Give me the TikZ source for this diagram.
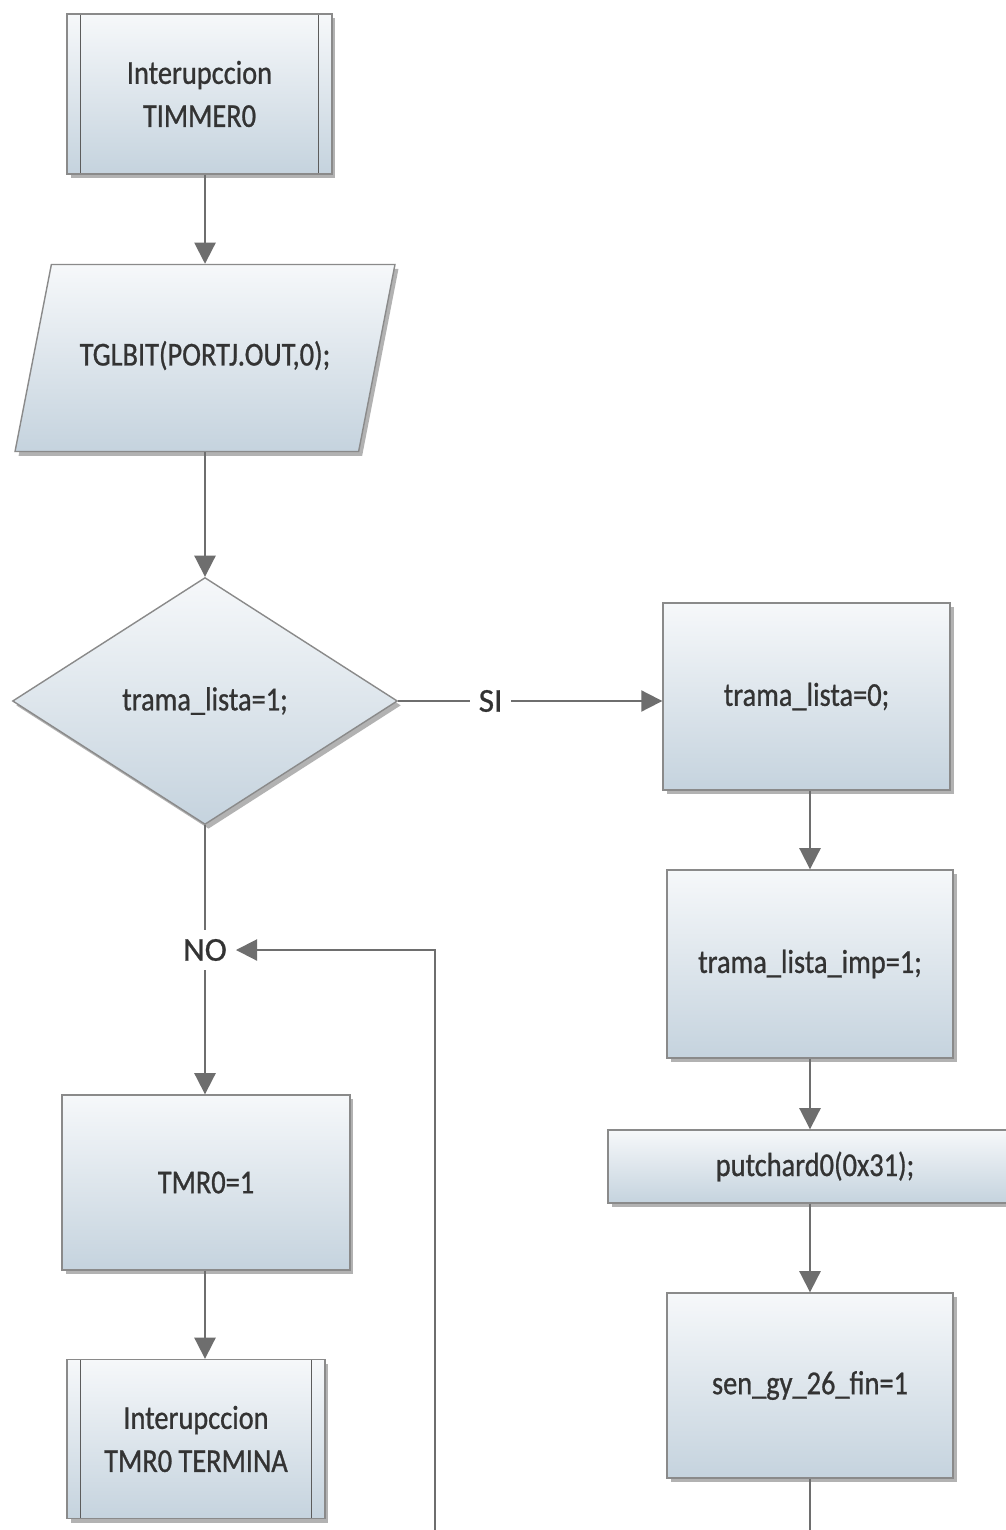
\documentclass[tikz,border=0pt]{standalone}
\usepackage{fontspec}
\setmainfont{Carlito}[FakeStretch=0.85, FakeBold=0.8]
\newfontfamily\tagfont{Carlito}[FakeBold=0.8]
\usetikzlibrary{arrows.meta,shapes.geometric,shadows}
\definecolor{boxtop}{HTML}{F6F8FA}
\definecolor{boxbot}{HTML}{C5D3DE}
\definecolor{edge}{HTML}{8A8A8A}
\definecolor{flow}{HTML}{6E6E6E}
\definecolor{ink}{HTML}{333333}

\begin{document}
\begin{tikzpicture}[
  x=0.02cm, y=-0.02cm,
  every node/.style={font=\fontsize{19}{24.5}\selectfont, text=ink},
  block/.style={draw=edge, line width=0.8pt, top color=boxtop, bottom color=boxbot, align=center, inner sep=0pt,
    drop shadow={shadow xshift=2pt, shadow yshift=-2.5pt, opacity=0.55, fill=black!55}},
  proc/.style={block, rectangle},
  subr/.style={proc, path picture={
      \draw[ink!80, line width=0.8pt] ([xshift=0.27cm]path picture bounding box.north west) -- ([xshift=0.27cm]path picture bounding box.south west);
      \draw[ink!80, line width=0.8pt] ([xshift=-0.27cm]path picture bounding box.north east) -- ([xshift=-0.27cm]path picture bounding box.south east);}},
  io/.style={block, trapezium, trapezium left angle=79, trapezium right angle=101, trapezium stretches body=true},
  decision/.style={block, diamond},
  link/.style={draw=flow, line width=1.1pt},
  arrow/.style={link, -{Triangle[length=12pt,width=12pt]}},
  tag/.style={fill=white, inner sep=5pt, font=\tagfont\fontsize{19}{22}\selectfont}
]
\useasboundingbox (0,0) rectangle (1005,1530);
\fill[white] (0,0) rectangle (1005,1530);

% left column
\node[subr, minimum width=5.3cm, minimum height=3.2cm] (start) at (199.5,94) {Interupccion\\TIMMER0};
\node[io, minimum width=7.6cm, text height=0.45cm, text depth=0.15cm, inner ysep=1.57cm] (tgl) at (205,358) {TGLBIT(PORTJ.OUT,0);};
\node[decision, minimum width=7.7cm, minimum height=4.94cm] (cond) at (205,701) {trama\_lista=1;};
\node[tag] (no) at (205,950) {NO};
\node[proc, minimum width=5.76cm, minimum height=3.5cm] (tmr) at (206,1182.5) {TMR0=1};
\node[subr, minimum width=5.16cm, minimum height=3.18cm] (fin) at (196,1439) {Interupccion\\TMR0 TERMINA};

% right column
\node[proc, minimum width=5.74cm, minimum height=3.74cm] (clr) at (806.5,696.5) {trama\_lista=0;};
\node[proc, minimum width=5.72cm, minimum height=3.76cm] (imp) at (810,964) {trama\_lista\_imp=1;};
\node[proc, minimum width=8.28cm, minimum height=1.46cm] (put) at (815,1166.5) {putchard0(0x31);};
\node[proc, minimum width=5.72cm, minimum height=3.7cm] (sen) at (810,1385.5) {sen\_gy\_26\_fin=1};

\coordinate (loopin) at (435,1530);
\coordinate (out) at (810,1530);

\draw[arrow] (tgl.north |- start.south) -- (tgl.north);
\draw[arrow] (tgl) -- (cond);
\draw[arrow] (cond.east) -- node[tag, pos=0.35]{SI} (cond.east -| clr.west);
\draw[link] (cond) -- (no);
\draw[arrow] (no) -- (tmr.north -| no);
\draw[arrow] (tmr.south -| no) -- (fin.north -| no);
\draw[arrow] (loopin) |- (no);
\draw[arrow] (clr.south -| imp) -- (imp.north);
\draw[arrow] (imp) -- (imp |- put.north);
\draw[arrow] (imp |- put.south) -- (sen.north);
\draw[link] (sen) -- (out);
\end{tikzpicture}
\end{document}
